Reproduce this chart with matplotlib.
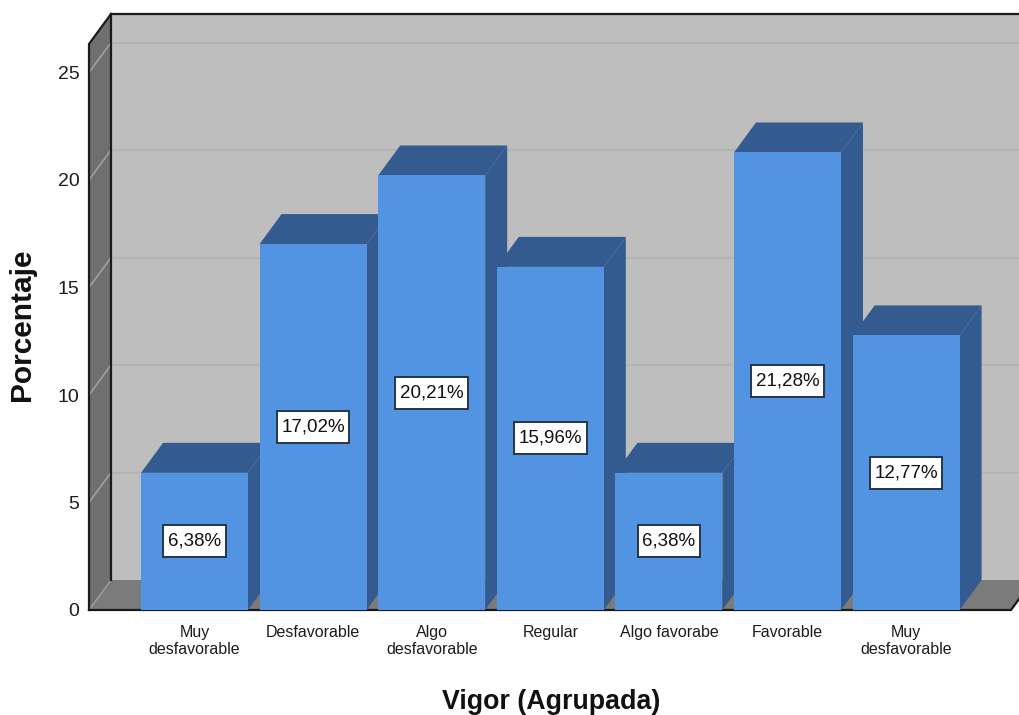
import matplotlib
matplotlib.use("Agg")
import matplotlib.pyplot as plt
from matplotlib.patches import Polygon, Rectangle

categories = ["Muy\ndesfavorable", "Desfavorable", "Algo\ndesfavorable", "Regular",
              "Algo favorabe", "Favorable", "Muy\ndesfavorable"]
values = [6.38, 17.02, 20.21, 15.96, 6.38, 21.28, 12.77]
labels = ["6,38%", "17,02%", "20,21%", "15,96%", "6,38%", "21,28%", "12,77%"]
yticks = [0, 5, 10, 15, 20, 25]

plt.rcParams["font.family"] = ["Liberation Sans", "DejaVu Sans"]
W, H = 1019, 715
fig = plt.figure(figsize=(W / 100, H / 100), dpi=100, facecolor="white")

L, R, B, T = 89, 1011, 610, 44
ax = fig.add_axes([L / W, 1 - B / H, (R - L) / W, (B - T) / H])
PX_X = 118.6   # pixels per category
PX_Y = 21.5    # pixels per percentage unit
x0 = -(194.5 - L) / PX_X
ax.set_xlim(x0, x0 + (R - L) / PX_X)
ax.set_ylim(0, (B - T) / PX_Y)
xmin, xmax = ax.get_xlim()
ymax = ax.get_ylim()[1]
DX = 22 / PX_X
DY = 30 / PX_Y
BW = 107 / PX_X

for s in ax.spines.values():
    s.set_visible(False)
ax.patch.set_visible(False)


def poly(pts, fc, ec="none", lw=0, z=1):
    ax.add_patch(Polygon(pts, closed=True, fc=fc, ec=ec, lw=lw, zorder=z, clip_on=False,
                         joinstyle="round"))


# back wall (runs off the right edge of the picture)
poly([(xmin + DX, DY), (xmax + DX, DY), (xmax + DX, ymax + DY), (xmin + DX, ymax + DY)], "#bebebe", z=1)
# left wall
poly([(xmin, 0), (xmin + DX, DY), (xmin + DX, ymax + DY), (xmin, ymax)], "#6f6f6f", z=1.1)
# floor
poly([(xmin, 0), (xmax, 0), (xmax + DX, DY), (xmin + DX, DY)], "#7b7b7b", z=1.1)

# gridlines on the walls
for t in yticks[1:]:
    ax.plot([xmin + DX, xmax + DX], [t + DY, t + DY], color="#b4b4b4", lw=1.5, zorder=1.2, clip_on=False)
    ax.plot([xmin, xmin + DX], [t, t + DY], color="#a0a0a0", lw=1.2, zorder=1.2, clip_on=False)
ax.plot([xmin, xmin + DX], [0, DY], color="#a0a0a0", lw=1.0, zorder=1.2, clip_on=False)

# wall frame
dark = "#1a1a1a"
ax.plot([xmin + DX, xmin + DX], [DY, ymax + DY], color=dark, lw=1.6, zorder=1.3, clip_on=False)
ax.plot([xmin + DX, xmax + DX], [ymax + DY, ymax + DY], color=dark, lw=1.6, zorder=1.3, clip_on=False)
ax.plot([xmin, xmin, xmin + DX], [0, ymax, ymax + DY], color=dark, lw=1.6, zorder=1.3, clip_on=False)
ax.plot([xmin, xmax, xmax + DX], [0, 0, DY], color=dark, lw=1.6, zorder=1.3, clip_on=False)

# 3D bars
front, shade = "#5294e2", "#335b8f"
renderer = fig.canvas.get_renderer()
for i, v in enumerate(values):
    z = 2 + i * 0.1
    l, r = i - BW / 2, i + BW / 2
    poly([(r, 0), (r + DX, DY), (r + DX, v + DY), (r, v)], shade, z=z)
    poly([(l, v), (r, v), (r + DX, v + DY), (l + DX, v + DY)], shade, z=z)
    ax.bar(i, v, width=BW, color=front, zorder=z + 0.01, clip_on=False)
    txt = ax.text(i, v / 2, labels[i], ha="center", va="center", fontsize=13.5, color="#111111", zorder=7)
    # label box: text width plus padding, fixed height of about 32 px
    w_px = txt.get_window_extent(renderer).width + 9
    h_px = 32
    ax.add_patch(Rectangle((i - w_px / 2 / PX_X, v / 2 - h_px / 2 / PX_Y), w_px / PX_X, h_px / PX_Y,
                           fc="white", ec="#26364a", lw=1.4, zorder=6))

ax.set_yticks(yticks)
ax.set_xticks(range(len(categories)))
ax.set_xticklabels(categories, fontsize=11.5, color="#1c1c1c", linespacing=1.15)
ax.tick_params(axis="x", length=0, pad=11)
ax.tick_params(axis="y", length=0, pad=7, labelsize=14, labelcolor="#1c1c1c")

fig.text(551 / W, 1 - 702 / H, "Vigor (Agrupada)", ha="center", va="center", fontsize=19.3,
         fontweight="bold", color="#111111")
fig.text(22 / W, 1 - 325 / H, "Porcentaje", ha="center", va="center", rotation=90, fontsize=21.5,
         fontweight="bold", color="#111111")

fig.savefig("out.png", dpi=100, facecolor="white")
